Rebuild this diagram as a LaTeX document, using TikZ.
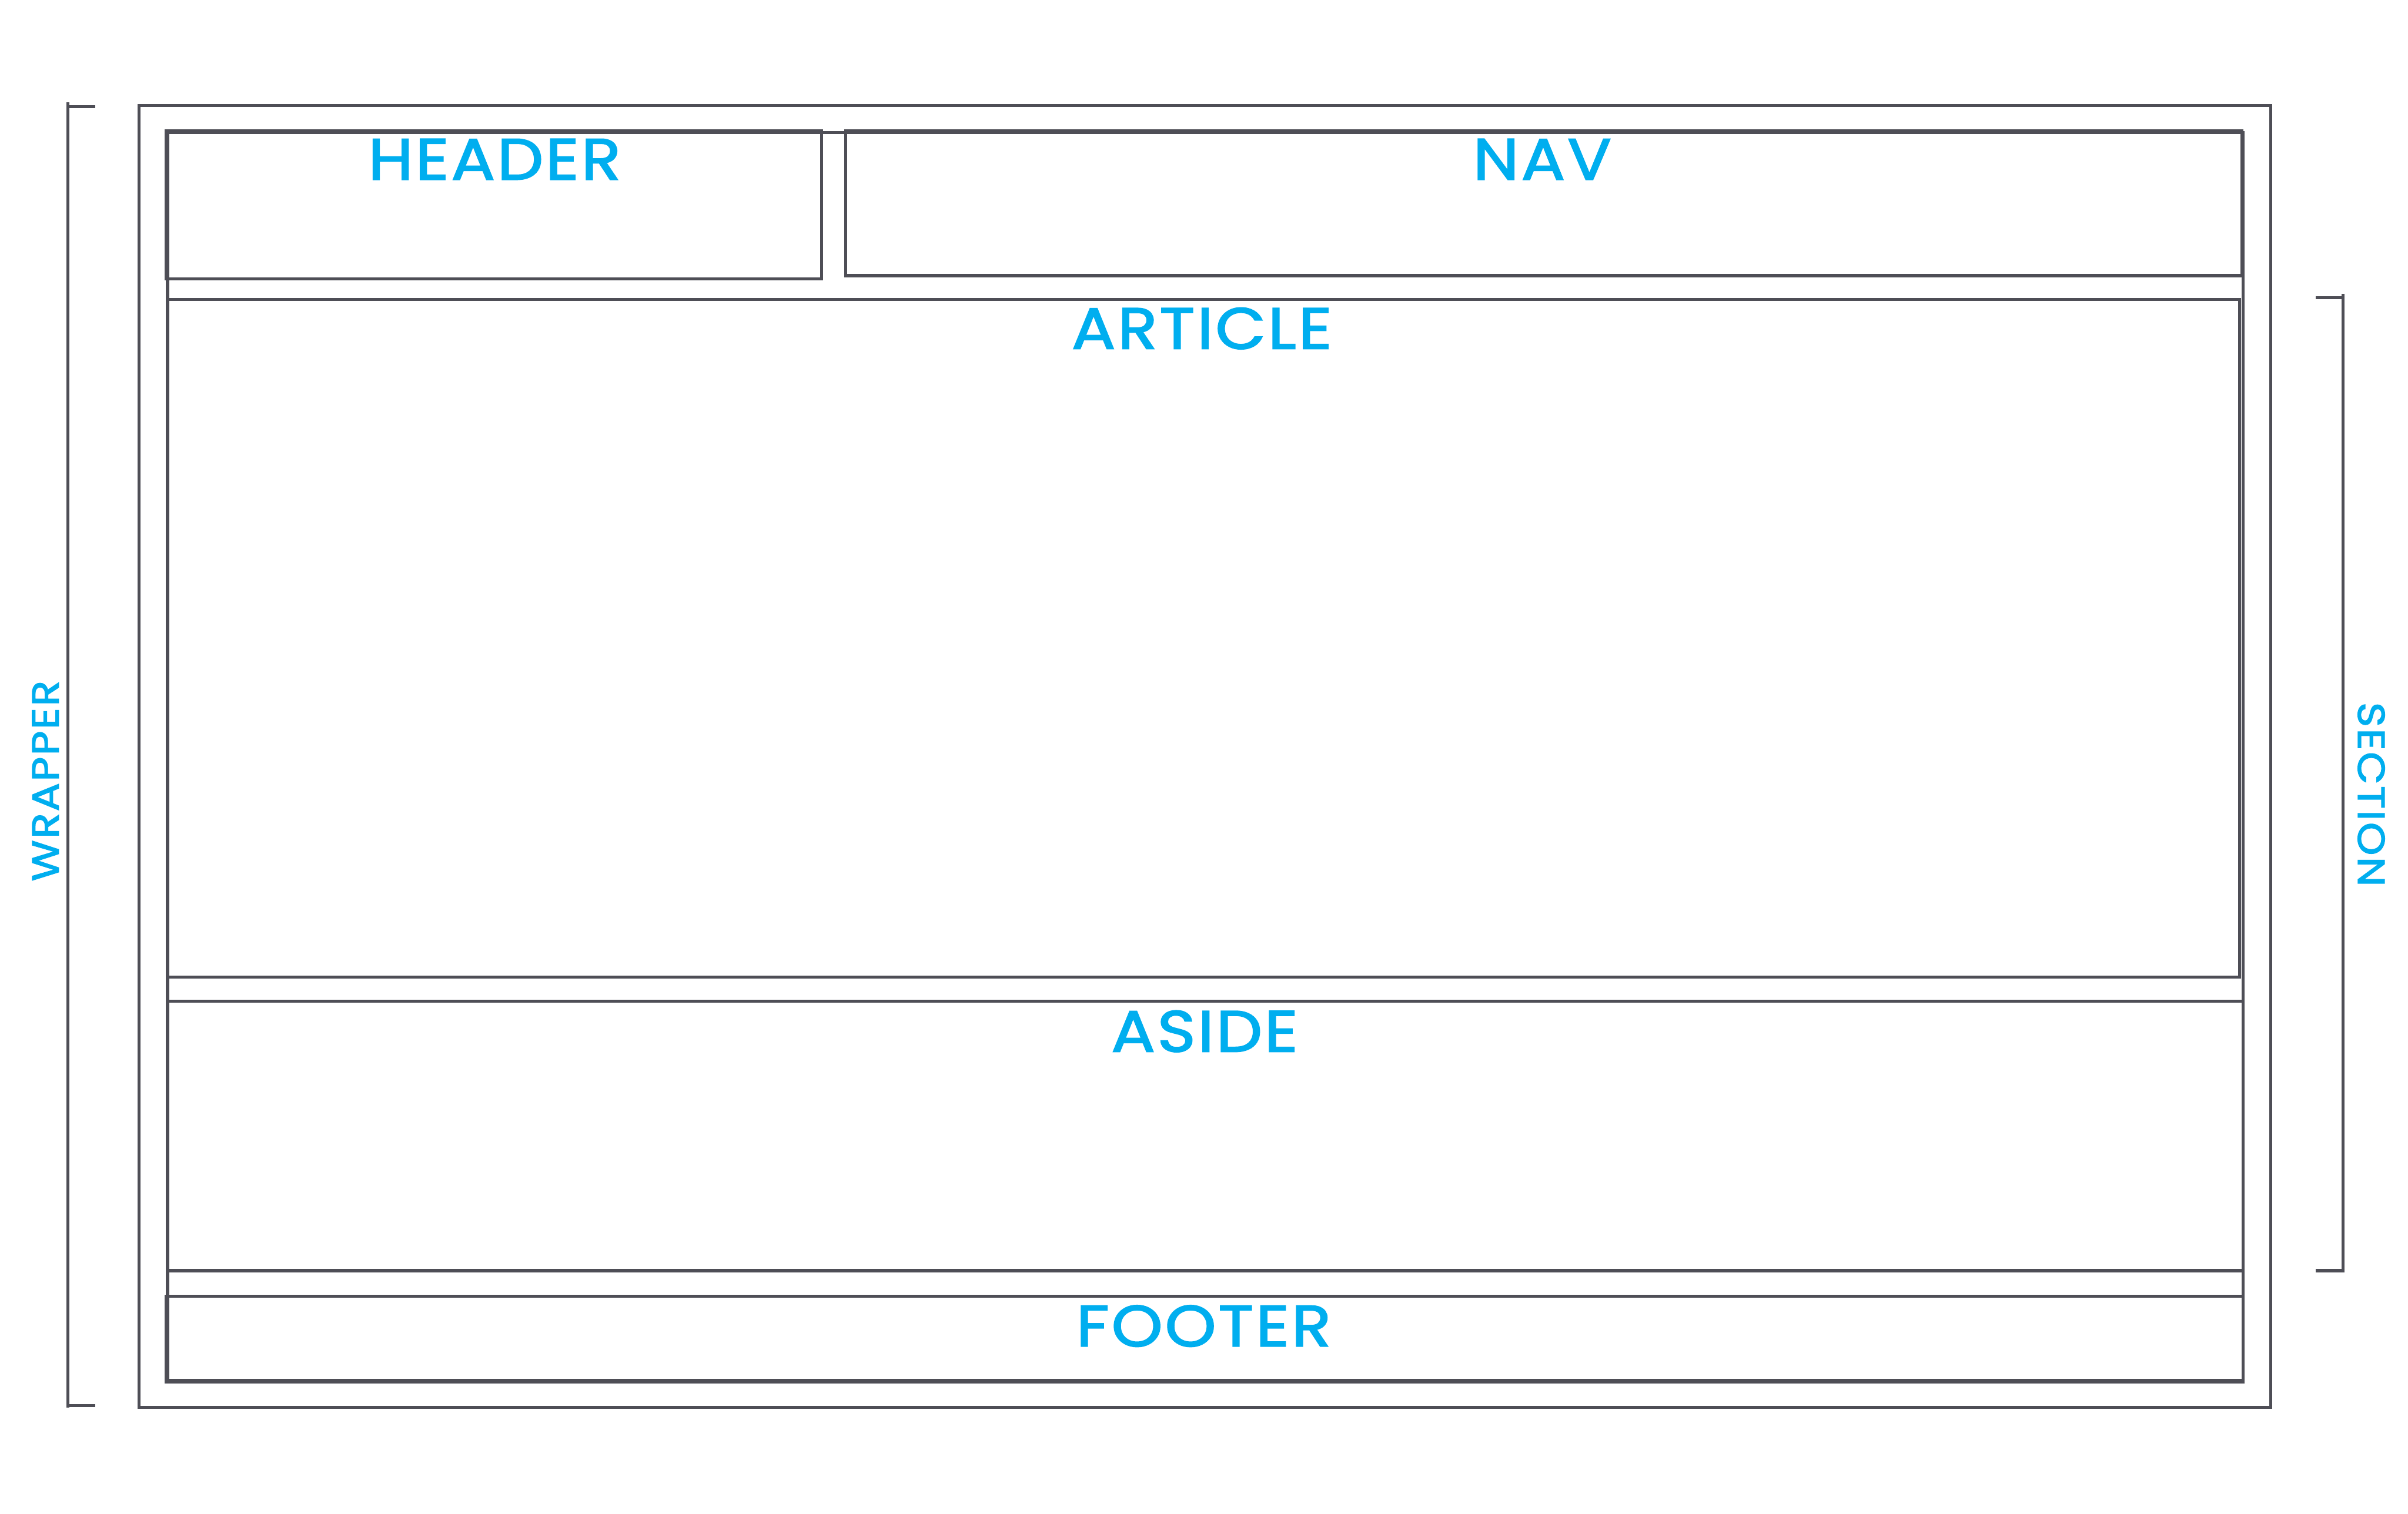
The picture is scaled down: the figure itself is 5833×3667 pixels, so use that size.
\documentclass[tikz,border=0pt]{standalone}
\usepackage{fontspec}
\setmainfont{Poppins}
\newfontfamily\labelfont{Poppins}[LetterSpace=4.0,FakeStretch=1.12,FakeBold=2.2]
\definecolor{linegray}{RGB}{78,78,86}
\definecolor{labelcyan}{RGB}{0,174,239}
\begin{document}
\begin{tikzpicture}[x=0.01cm,y=-0.01cm,
  wire/.style={draw=linegray,line width=0.075cm},
  biglabel/.style={text=labelcyan,inner sep=0pt,anchor=base,font=\labelfont\fontsize{40pt}{48pt}\selectfont},
  sidelabel/.style={text=labelcyan,inner sep=0pt,anchor=base,font=\labelfont\fontsize{26pt}{32pt}\selectfont}]
\useasboundingbox[fill=white] (0,0) rectangle (5833,3667);
% wrapper box
\draw[wire] (337,256) rectangle (5500,3410);
% section container
\draw[wire] (406,321) rectangle (5433,3344);
% header
\draw[wire] (402,317) rectangle (1990,676);
% nav
\draw[wire] (2048,317) rectangle (5431,668);
% article
\draw[wire] (406,726) rectangle (5425,2368);
% aside
\draw[wire] (406,2426) rectangle (5433,3079);
% footer
\draw[wire] (402,3141) rectangle (5433,3348);
% wrapper bracket
\coordinate (wt) at (164,248);
\coordinate (wb) at (164,3410);
\coordinate (wt1) at (164,258);
\coordinate (wt2) at (231,258);
\coordinate (wb1) at (164,3406);
\coordinate (wb2) at (231,3406);
\draw[wire] (wt) -- (wb);
\draw[wire] (wt1) -- (wt2);
\draw[wire] (wb1) -- (wb2);
% section bracket
\coordinate (st) at (5676,712);
\coordinate (sb) at (5676,3083);
\coordinate (st1) at (5676,721);
\coordinate (st2) at (5609,721);
\coordinate (sb1) at (5676,3079);
\coordinate (sb2) at (5609,3079);
\draw[wire] (st) -- (sb);
\draw[wire] (st1) -- (st2);
\draw[wire] (sb1) -- (sb2);
% labels
\node[biglabel] (lheader) at (1198,435) {HEADER};
\node[biglabel] (lnav) at (3736,435) {NAV};
\node[biglabel] (larticle) at (2911,845) {ARTICLE};
\node[biglabel] (laside) at (2918,2548) {ASIDE};
\node[biglabel] (lfooter) at (2916,3262) {FOOTER};
\node[sidelabel,rotate=90] (lwrapper) at (142,1892) {WRAPPER};
\node[sidelabel,rotate=-90] (lsection) at (5712,1925) {SECTION};
\end{tikzpicture}
\end{document}
